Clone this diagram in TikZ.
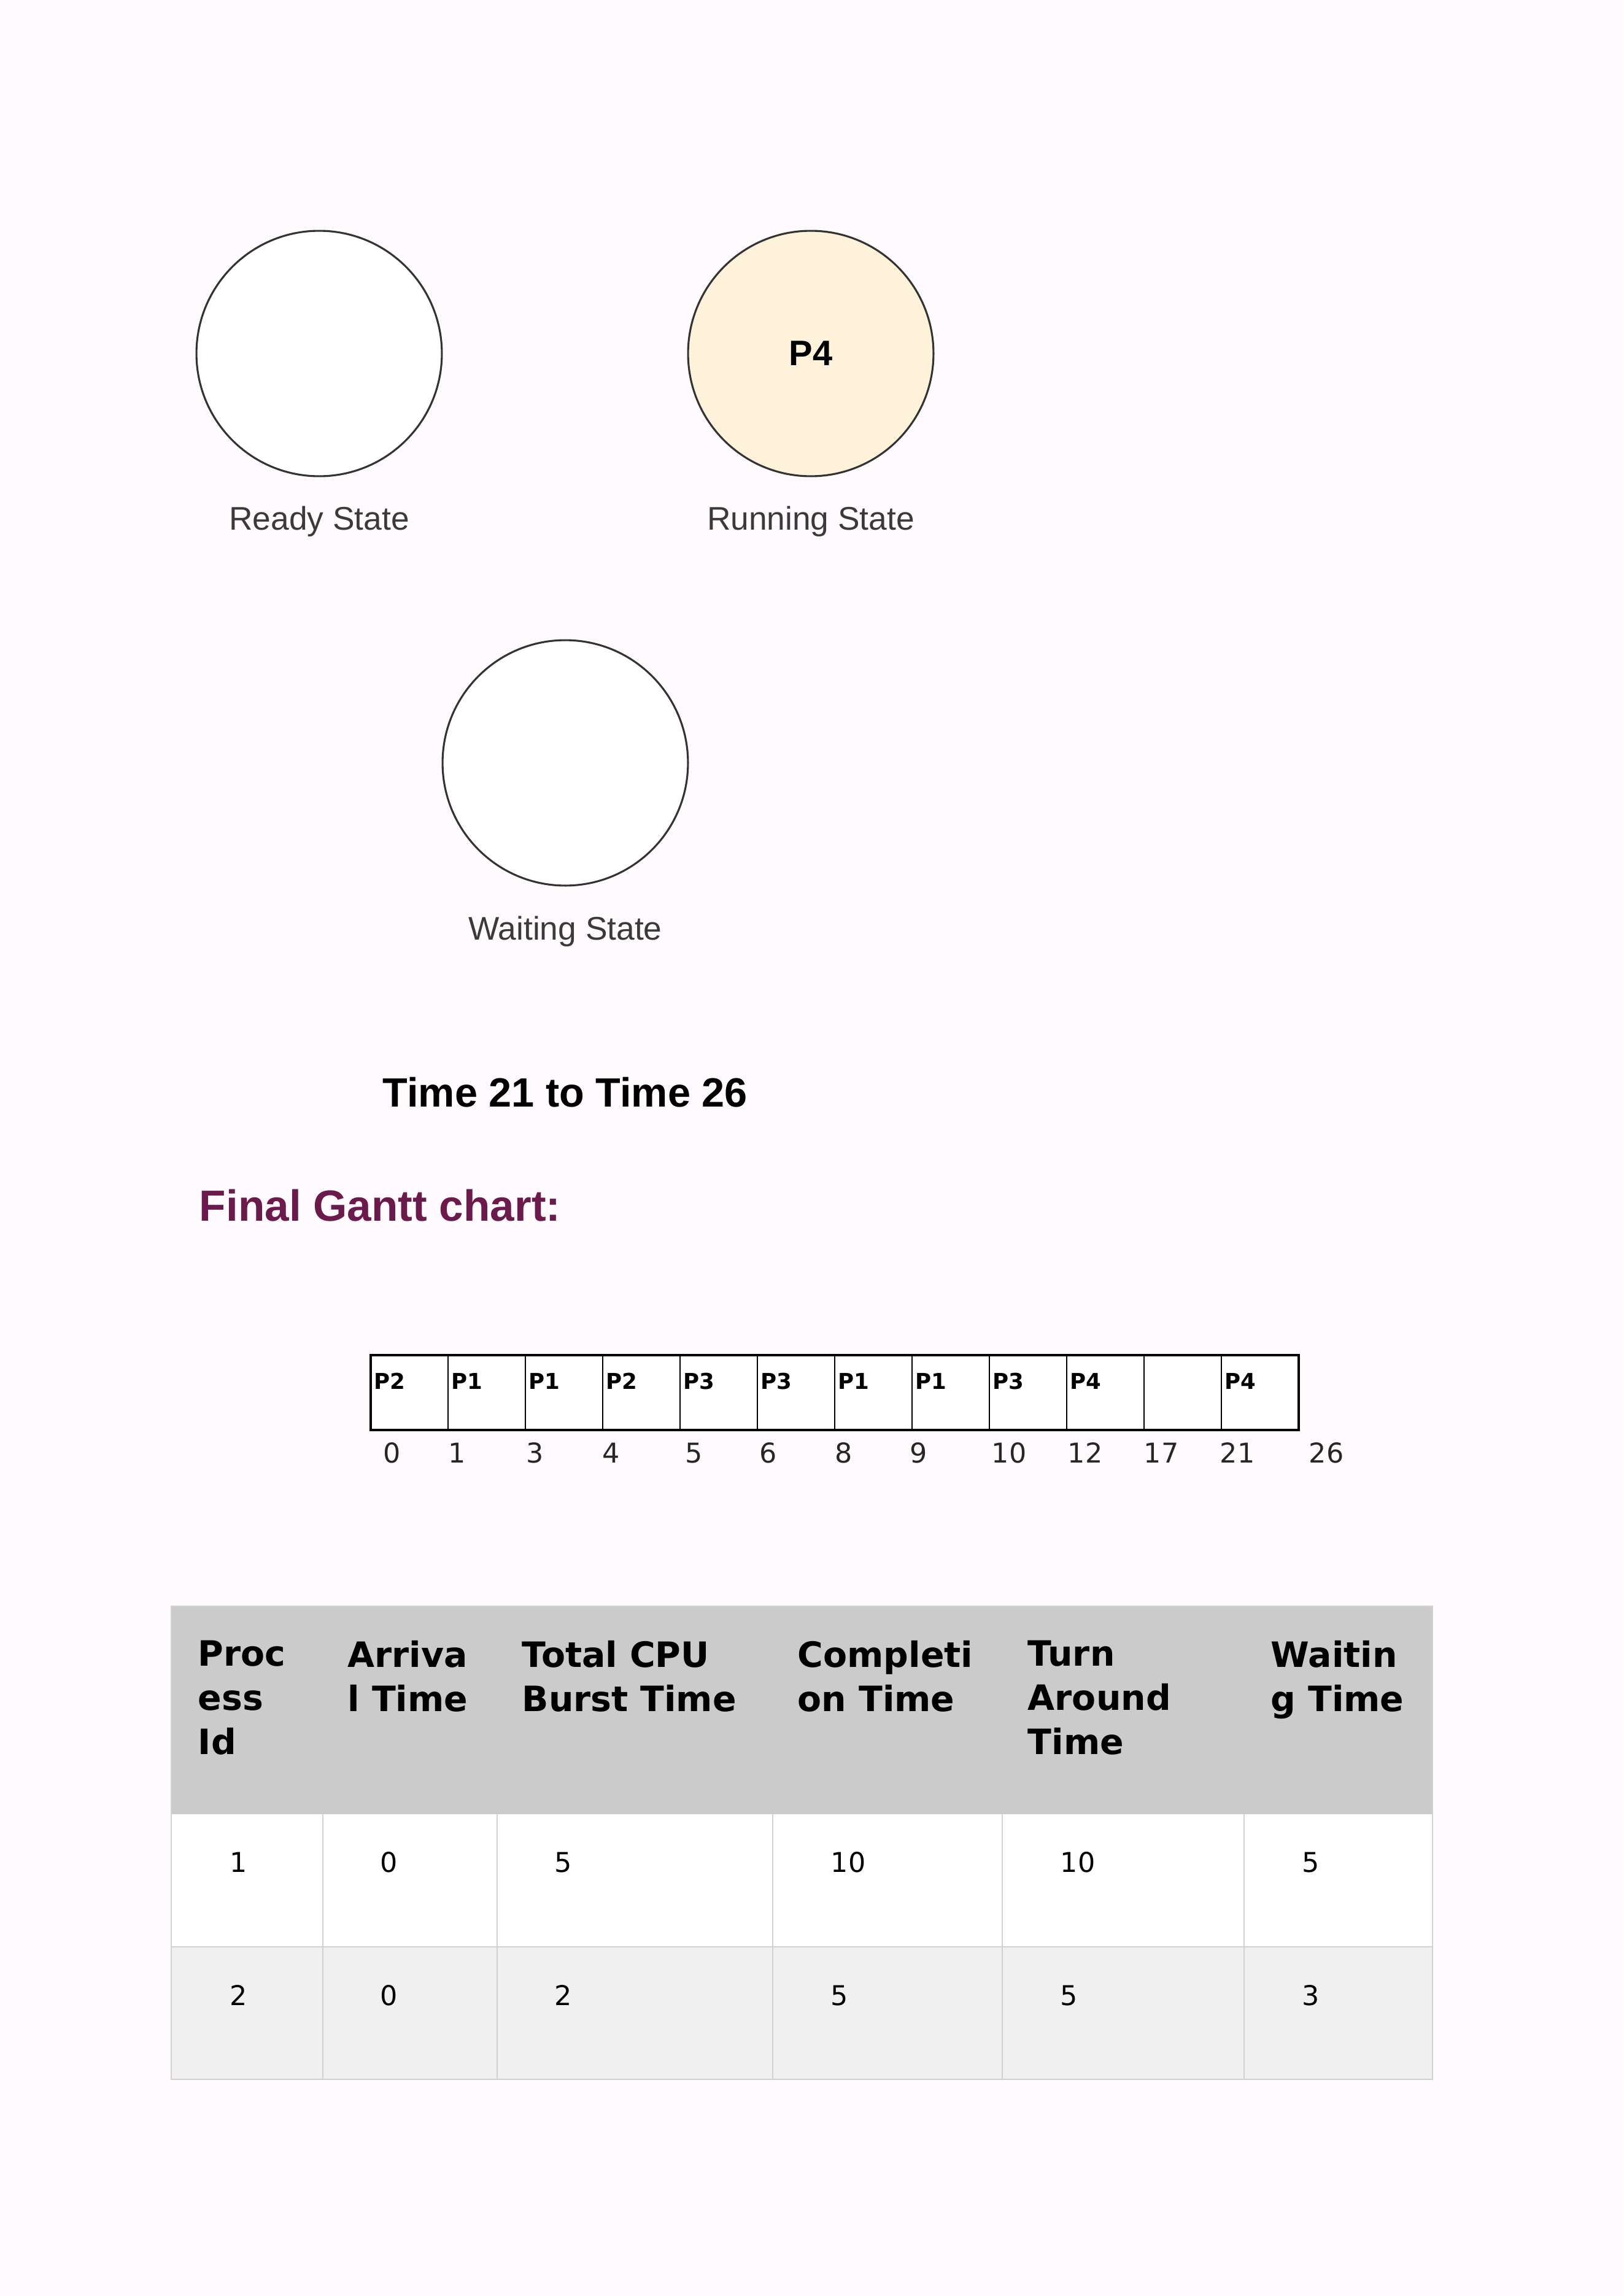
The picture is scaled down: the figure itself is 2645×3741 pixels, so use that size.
\documentclass[tikz,border=0pt]{standalone}
\usepackage{fontspec}
\usepackage{tikz}
\newfontfamily\arialfont{Liberation Sans}
\newfontfamily\dejafont{DejaVu Sans}
\definecolor{pagebg}{HTML}{FEFAFE}
\definecolor{runfill}{HTML}{FEF3DA}
\definecolor{ring}{HTML}{333333}
\definecolor{capgray}{HTML}{3A3A3A}
\definecolor{headplum}{HTML}{6B1A4C}
\definecolor{hdrgray}{HTML}{CBCBCB}
\definecolor{rowgray}{HTML}{F0F0F0}
\definecolor{gridgray}{HTML}{D2D2D2}

\begin{document}
\begin{tikzpicture}[x=0.22506pt,y=-0.22506pt,
    state/.style={draw=ring, line width=0.7pt, circle, minimum size=90pt, inner sep=0pt, fill=white},
    statecap/.style={anchor=base, inner sep=0pt, text=capgray, font=\arialfont\fontsize{12}{14}\selectfont},
    glabel/.style={anchor=base west, inner sep=0pt, font=\dejafont\bfseries\fontsize{8}{10}\selectfont},
    tick/.style={anchor=base, inner sep=0pt, text=black!85, font=\dejafont\fontsize{10}{12}\selectfont},
    hdrcell/.style={anchor=north west, inner sep=0pt, align=left, font=\dejafont\bfseries\fontsize{12.8}{16.2}\selectfont},
    cell/.style={anchor=base west, inner sep=0pt, font=\dejafont\fontsize{10}{12}\selectfont}]
      \useasboundingbox (0,0) rectangle (2645,3741);
      \fill[pagebg] (0,0) rectangle (2645,3741);

      \node (ready) at (520,576) [state] {};
      \node (running) at (1321,576) [state, fill=runfill, font=\arialfont\bfseries\fontsize{13}{15}\selectfont] {P4};
      \node (waiting) at (921,1243) [state] {};
      \node (readycap) at (520,863) [statecap] {Ready State};
      \node (runningcap) at (1321,863) [statecap] {Running State};
      \node (waitingcap) at (921,1531) [statecap] {Waiting State};

      \node (timetitle) at (623,1803) [anchor=base west, inner sep=0pt, font=\arialfont\bfseries\fontsize{15}{18}\selectfont] {Time 21 to Time 26};
      \node (gantttitle) at (324,1989) [anchor=base west, inner sep=0pt, text=headplum, font=\arialfont\bfseries\fontsize{16}{19}\selectfont] {Final Gantt chart:};

      \fill[white] (604,2208) rectangle (2116,2330);
      \foreach \i in {1,...,11}
        \draw[line width=0.5pt] (604+126*\i,2208) -- (604+126*\i,2330);
      \draw[line width=0.8pt] (604,2208) rectangle (2116,2330);
      \foreach \lbl [count=\i from 0] in {P2,P1,P1,P2,P3,P3,P1,P1,P3,P4,{},P4}
        \node (g\i) at (609+126*\i,2263) [glabel] {\lbl};
      \foreach \x/\t [count=\i] in {639/0,745/1,872/3,996/4,1131/5,1252/6,1375/8,1497/9,1644/10,1768/12,1892/17,2016/21,2161/26}
        \node (t\i) at (\x,2383) [tick] {\t};

      \fill[hdrgray] (279,2617) rectangle (2334,2956);
      \fill[white] (279,2956) rectangle (2334,3172);
      \fill[rowgray] (279,3172) rectangle (2334,3388);
      \draw[gridgray, line width=0.6pt] (279,3172) -- (2334,3172);
      \foreach \x in {526,810,1259,1633,2027}
        \draw[gridgray, line width=0.6pt] (\x,2956) -- (\x,3388);
      \draw[gridgray, line width=0.6pt] (279,2617) rectangle (2334,3388);
      \foreach \x/\h [count=\i] in {322/{Proc\\ess\\Id}, 566/{Arriva\\l Time}, 850/{Total CPU\\Burst Time}, 1299/{Completi\\on Time}, 1674/{Turn\\Around\\Time}, 2070/{Waitin\\g Time}}
        \node (h\i) at (\x,2672) [hdrcell] {\h};
      \foreach \x/\a/\b [count=\i] in {374/1/2, 619/0/0, 903/5/2, 1353/10/5, 1727/10/5, 2121/5/3} {
        \node (ra\i) at (\x,3050) [cell] {\a};
        \node (rb\i) at (\x,3267) [cell] {\b};
      }
\end{tikzpicture}
\end{document}
